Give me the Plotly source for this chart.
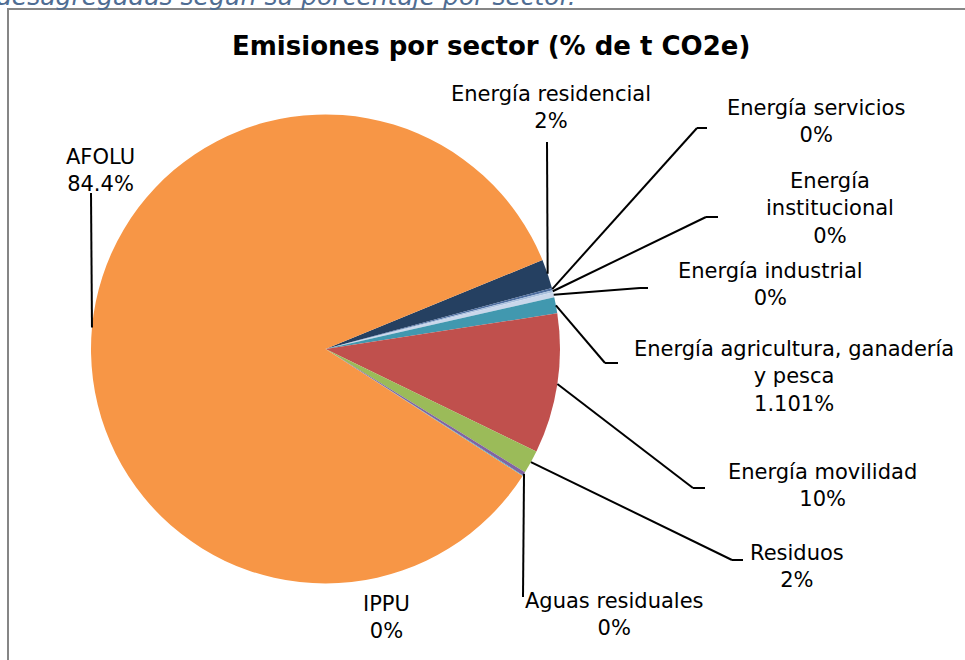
import math
import plotly.graph_objects as go

# ---- data -------------------------------------------------------------
sectors = [
    "Energía residencial",
    "Energía servicios",
    "Energía institucional",
    "Energía industrial",
    "Energía agricultura, ganadería y pesca",
    "Energía movilidad",
    "Residuos",
    "Aguas residuales",
    "IPPU",
    "AFOLU",
]
shares = [2.0, 0.15, 0.15, 0.35, 1.101, 9.6, 1.6, 0.25, 0.05, 84.4]
label_texts = [
    "Energía residencial<br>2%",
    "Energía servicios<br>0%",
    "Energía<br>institucional<br>0%",
    "Energía industrial<br>0%",
    "Energía agricultura, ganadería<br>y pesca<br>1.101%",
    "Energía movilidad<br>10%",
    "Residuos<br>2%",
    "Aguas residuales<br>0%",
    "IPPU<br>0%",
    "AFOLU<br>84.4%",
]

# ---- styling / layout -------------------------------------------------
colors = ["#254061", "#4F6FA0", "#A9C0DE", "#C9D7EB", "#4198AF",
          "#C0504D", "#9BBB59", "#8064A2", "#4BACC6", "#F79646"]

W, H = 965, 660
CX, CY, R = 325.5, 349.0, 234.5      # pie centre and radius in pixels
ROTATION = 67.7                       # start angle, clockwise from 12 o'clock
FONT = "DejaVu Sans"

# label block centres (pixels) and leader-line bends after the rim point
label_pos = [(551, 108), (816, 122), (830, 208), (770, 284), (794, 376),
             (822, 485), (797, 566), (614, 614), (386, 617), (100, 170)]
leader_bends = [
    [(547, 142)],
    [(697, 128), (707, 128)],
    [(706, 217), (718, 217)],
    [(640, 288), (648, 288)],
    [(605, 363), (618, 363)],
    [(693, 488), (705, 488)],
    [(732, 560), (743, 560)],
    [(523, 597)],
    [],
    [(91, 193)],
]


def px(x):
    return x / W


def py(y):
    return 1 - y / H


fig = go.Figure(go.Pie(
    labels=sectors,
    values=shares,
    sort=False,
    direction="clockwise",
    rotation=ROTATION,
    marker=dict(colors=colors, line=dict(width=0)),
    textinfo="none",
    hoverinfo="label+percent",
    showlegend=False,
    domain=dict(x=[px(CX - R), px(CX + R)], y=[py(CY + R), py(CY - R)]),
))

# rim anchor of every slice, from the slice's mid angle
total = sum(shares)
start = ROTATION
shapes = []
annotations = []
for text, v, (lx, ly), bends in zip(label_texts, shares, label_pos, leader_bends):
    mid = math.radians(start + 360 * v / total / 2)
    start += 360 * v / total
    rx = CX + R * math.sin(mid)
    ry = CY - R * math.cos(mid)
    pts = [(rx, ry)] + bends
    for (x0, y0), (x1, y1) in zip(pts[:-1], pts[1:]):
        shapes.append(dict(type="line", xref="paper", yref="paper",
                           x0=px(x0), y0=py(y0), x1=px(x1), y1=py(y1),
                           line=dict(color="black", width=2)))
    annotations.append(dict(text=text, x=px(lx), y=py(ly), xref="paper",
                            yref="paper", xanchor="center", yanchor="middle",
                            showarrow=False, align="center",
                            font=dict(family=FONT, size=21, color="black")))

# chart frame
shapes.append(dict(type="rect", xref="paper", yref="paper",
                   x0=px(8), y0=py(9), x1=px(975), y1=py(675),
                   line=dict(color="#868686", width=2), fillcolor="rgba(0,0,0,0)",
                   layer="below"))

# caption text running off the top of the page
annotations.append(dict(text="<i>desagregadas según su porcentaje por sector.</i>",
                        x=px(-6), y=py(-3), xref="paper", yref="paper",
                        xanchor="left", yanchor="middle", showarrow=False,
                        font=dict(family=FONT, size=25, color="#4F6D93")))

# chart title
annotations.append(dict(text="<b>Emisiones por sector (% de t CO2e)</b>",
                        x=px(491), y=py(46), xref="paper", yref="paper",
                        xanchor="center", yanchor="middle", showarrow=False,
                        font=dict(family=FONT, size=26, color="black")))

fig.update_layout(
    width=W, height=H,
    margin=dict(l=0, r=0, t=0, b=0),
    paper_bgcolor="white",
    plot_bgcolor="white",
    shapes=shapes,
    annotations=annotations,
)

fig.write_html("out.html")
